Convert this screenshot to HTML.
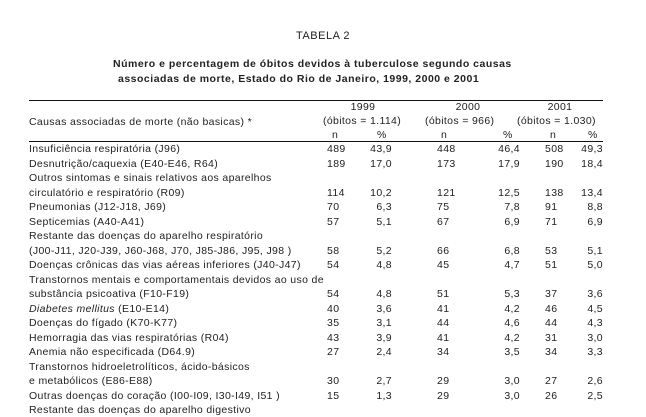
<!DOCTYPE html>
<html><head><meta charset="utf-8"><style>
body{margin:0;width:646px;height:417px;background:#fff;position:relative;overflow:hidden;font-family:"Liberation Sans",sans-serif;color:#222;}
.a{position:absolute;white-space:nowrap;font-size:10.5px;line-height:12px;letter-spacing:0.35px;}
.t{font-weight:bold;letter-spacing:0.5px;font-size:10.5px;}
.r{text-align:right;}
.c{text-align:center;}
.rule{position:absolute;left:29px;width:574px;height:1px;background:#111;}
</style></head><body>
<div class="a c" style="left:0;width:646px;top:30px;font-size:11px;letter-spacing:0.5px">TABELA 2</div>
<div class="a t" style="left:113px;top:58px">Número e percentagem de óbitos devidos à tuberculose segundo causas</div>
<div class="a t" style="left:118px;top:73px">associadas de morte, Estado do Rio de Janeiro, 1999, 2000 e 2001</div>
<div class="rule" style="top:100px"></div>
<div class="rule" style="top:141px"></div>
<div class="a c" style="left:320px;width:86px;top:101px">1999</div>
<div class="a c" style="left:425px;width:86px;top:101px">2000</div>
<div class="a c" style="left:517px;width:86px;top:101px">2001</div>
<div class="a" style="left:323px;top:115px">(óbitos = 1.114)</div>
<div class="a" style="left:425px;top:115px">(óbitos = 966)</div>
<div class="a" style="left:517px;top:115px">(óbitos = 1.030)</div>
<div class="a" style="left:29px;top:116px">Causas associadas de morte (não basicas) *</div>
<div class="a" style="left:332px;top:129px">n</div><div class="a" style="left:377px;top:129px">%</div>
<div class="a" style="left:441px;top:129px">n</div><div class="a" style="left:503px;top:129px">%</div>
<div class="a" style="left:550px;top:129px">n</div><div class="a" style="left:588px;top:129px">%</div>
<div id="rows"></div>
<script>
var d=[["Insuficiência respiratória (J96)","489","43,9","448","46,4","508","49,3"],
["Desnutrição/caquexia (E40-E46, R64)","189","17,0","173","17,9","190","18,4"],
["Outros sintomas e sinais relativos aos aparelhos"],
["circulatório e respiratório (R09)","114","10,2","121","12,5","138","13,4"],
["Pneumonias (J12-J18, J69)","70","6,3","75","7,8","91","8,8"],
["Septicemias (A40-A41)","57","5,1","67","6,9","71","6,9"],
["Restante das doenças do aparelho respiratório"],
["(J00-J11, J20-J39, J60-J68, J70, J85-J86, J95, J98 )","58","5,2","66","6,8","53","5,1"],
["Doenças crônicas das vias aéreas inferiores (J40-J47)","54","4,8","45","4,7","51","5,0"],
["Transtornos mentais e comportamentais devidos ao uso de"],
["substância psicoativa (F10-F19)","54","4,8","51","5,3","37","3,6"],
["<i>Diabetes mellitus</i> (E10-E14)","40","3,6","41","4,2","46","4,5"],
["Doenças do fígado (K70-K77)","35","3,1","44","4,6","44","4,3"],
["Hemorragia das vias respiratórias (R04)","43","3,9","41","4,2","31","3,0"],
["Anemia não especificada (D64.9)","27","2,4","34","3,5","34","3,3"],
["Transtornos hidroeletrolíticos, ácido-básicos"],
["e metabólicos (E86-E88)","30","2,7","29","3,0","27","2,6"],
["Outras doenças do coração (I00-I09, I30-I49, I51 )","15","1,3","29","3,0","26","2,5"],
["Restante das doenças do aparelho digestivo"]];
var h="";
for(var i=0;i<d.length;i++){var y=143+i*14.5;var r=d[i];
h+='<div class="a" style="left:29px;top:'+y+'px">'+r[0]+'</div>';
if(r.length>1){
h+='<div class="a" style="left:327px;top:'+y+'px">'+r[1]+'</div>';
h+='<div class="a r" style="left:352px;width:40px;top:'+y+'px">'+r[2]+'</div>';
h+='<div class="a" style="left:437px;top:'+y+'px">'+r[3]+'</div>';
h+='<div class="a r" style="left:480px;width:40px;top:'+y+'px">'+r[4]+'</div>';
h+='<div class="a" style="left:545px;top:'+y+'px">'+r[5]+'</div>';
h+='<div class="a r" style="left:563px;width:40px;top:'+y+'px">'+r[6]+'</div>';}}
document.getElementById("rows").innerHTML=h;
</script>
</body></html>
